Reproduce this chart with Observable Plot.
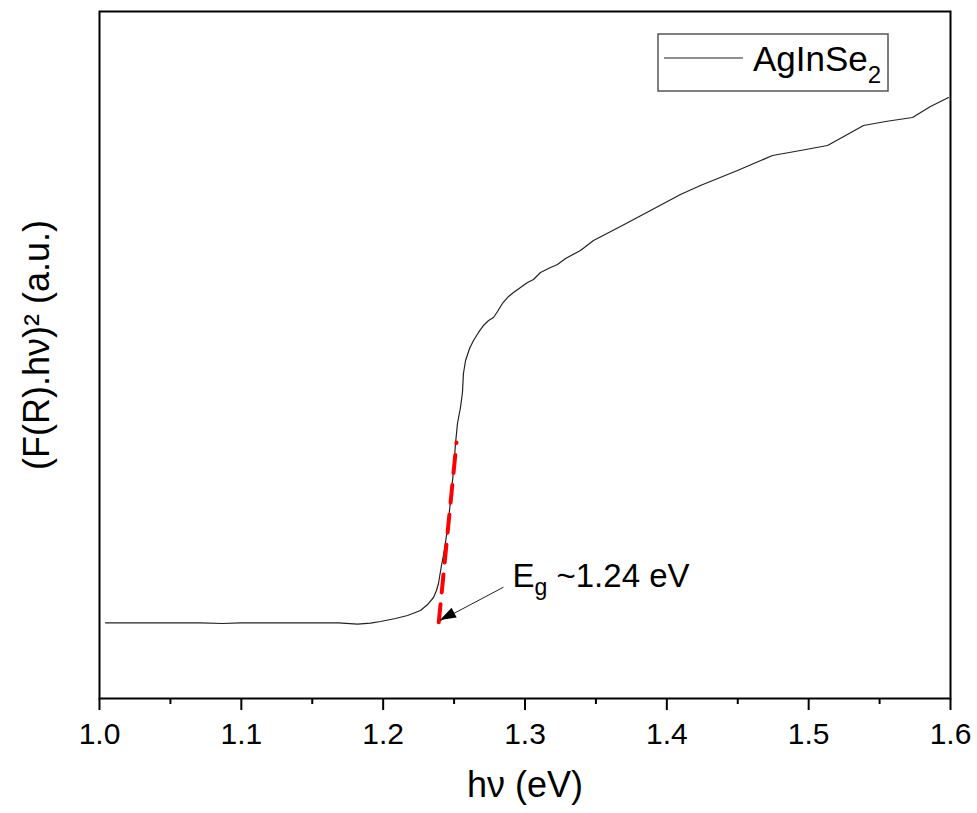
<!DOCTYPE html>
<html>
<head>
<meta charset="utf-8">
<script src="https://cdn.jsdelivr.net/npm/d3@7"></script>
<script src="https://cdn.jsdelivr.net/npm/@observablehq/plot@0.6"></script>
<style>
  body { margin: 0; background: #fff; }
  svg { font-family: "Liberation Sans", Arial, sans-serif; }
</style>
</head>
<body>
<div id="chart"></div>
<script>
// ---- data ----
const energy = [1.0042, 1.0360, 1.0712, 1.0867, 1.0994, 1.1417, 1.1685, 1.1819, 1.1911, 1.1981,
  1.2087, 1.2172, 1.2263, 1.2313, 1.2355, 1.2376, 1.2390, 1.2411, 1.2425, 1.2454,
  1.2475, 1.2496, 1.2510, 1.2524, 1.2545, 1.2559, 1.2566, 1.2581, 1.2609, 1.2637,
  1.2672, 1.2707, 1.2743, 1.2778, 1.2806, 1.2841, 1.2884, 1.2919, 1.2968, 1.3018,
  1.3060, 1.3109, 1.3180, 1.3229, 1.3286, 1.3391, 1.3483, 1.3673, 1.3885, 1.4096,
  1.4237, 1.4498, 1.4745, 1.4942, 1.5133, 1.5260, 1.5387, 1.5542, 1.5732, 1.5859, 1.5986];
const intensity = [11.02, 11.02, 11.02, 10.92, 11.02, 11.02, 11.02, 10.84, 10.96, 11.21,
  11.64, 12.08, 12.81, 13.68, 14.70, 15.72, 16.74, 19.36, 20.82, 24.75,
  28.82, 33.19, 37.12, 40.03, 42.36, 44.54, 47.31, 49.20, 50.95, 52.11,
  53.28, 54.29, 55.02, 55.46, 56.33, 57.50, 58.52, 59.10, 59.83, 60.55,
  60.99, 62.01, 62.74, 63.17, 64.05, 65.21, 66.67, 68.70, 71.03, 73.36,
  74.67, 76.86, 79.04, 79.77, 80.49, 81.95, 83.41, 83.99, 84.57, 86.17, 87.48];
const fitEnergy = [1.2392, 1.2517];
const fitIntensity = [11.1, 37.26];
const xTicks = [1.0, 1.1, 1.2, 1.3, 1.4, 1.5, 1.6];
const xMinorTicks = [1.05, 1.15, 1.25, 1.35, 1.45, 1.55];
const seriesName = "AgInSe2";
const xTitle = "hν (eV)";
const yTitle = "(F(R).hν)² (a.u.)";
const bandGap = [{labelX: 1.2912, labelY: 16.2, tailX: 1.2848, tailY: 16.2, tipX: 1.2404, tipY: 11.35, label: "Eg ~1.24 eV"}];

const curve = energy.map((x, i) => ({x, y: intensity[i]}));
const fit = fitEnergy.map((x, i) => ({x, y: fitIntensity[i]}));

const plot = Plot.plot({
  width: 977,
  height: 813,
  marginLeft: 99,
  marginRight: 27,
  marginTop: 11,
  marginBottom: 115,
  style: {fontFamily: "'Liberation Sans', Arial, sans-serif", color: "black", background: "white", overflow: "visible"},
  x: {domain: [1.0, 1.6]},
  y: {domain: [0, 100], axis: null},
  marks: [
    Plot.axisX({ticks: xMinorTicks, tickSize: 6, text: null, strokeWidth: 2, label: null}),
    Plot.axisX({ticks: xTicks, tickSize: 12, tickPadding: 12, tickFormat: d3.format(".1f"), fontSize: 30, strokeWidth: 2, label: null, fill: "black"}),
    Plot.line(curve, {x: "x", y: "y", stroke: "#222", strokeWidth: 1.2}),
    Plot.line(fit, {x: "x", y: "y", stroke: "#ff0000", strokeWidth: 4, strokeDasharray: "18,12"}),
    Plot.link(bandGap, {x1: "tailX", y1: "tailY", x2: "tipX", y2: "tipY", stroke: "#222", strokeWidth: 1}),
    Plot.text(bandGap, {x: "labelX", y: "labelY", text: "label", textAnchor: "start", lineAnchor: "bottom", fontSize: 33, fill: "black"}),
    Plot.text([xTitle], {text: d => d, frameAnchor: "bottom", dy: 98, lineAnchor: "bottom", textAnchor: "middle", fontSize: 36, fill: "black"}),
    Plot.text([yTitle], {text: d => d, frameAnchor: "left", dx: -62, dy: -10, rotate: -90, textAnchor: "middle", lineAnchor: "middle", fontSize: 36, fill: "black"}),
    Plot.frame({stroke: "black", strokeWidth: 2})
  ]
});

document.getElementById("chart").appendChild(plot);

const svg = d3.select(plot);
const sx = plot.scale("x"), sy = plot.scale("y");

// subscript for Eg label
svg.selectAll("text").filter(function() { return this.textContent === bandGap[0].label; }).each(function() {
  const t = d3.select(this);
  t.text(null);
  t.append("tspan").text("E");
  t.append("tspan").attr("font-size", 23).attr("dy", 8).text("g");
  t.append("tspan").attr("dy", -8).text(" ~1.24 eV");
});

// filled arrow head
{
  const d = bandGap[0];
  const tx = sx.apply(d.tipX), ty = sy.apply(d.tipY);
  const ax = sx.apply(d.tailX), ay = sy.apply(d.tailY);
  const len = Math.hypot(tx - ax, ty - ay);
  const ux = (tx - ax) / len, uy = (ty - ay) / len;
  const L = 16, W = 5.5;
  const bx = tx - ux * L, by = ty - uy * L;
  svg.append("polygon")
    .attr("points", [[tx, ty], [bx - uy * W, by + ux * W], [bx + uy * W, by - ux * W]].map(p => p.join(",")).join(" "))
    .attr("fill", "black");
}

// legend
{
  const g = svg.append("g");
  g.append("rect").attr("x", 658).attr("y", 34).attr("width", 230).attr("height", 57)
    .attr("fill", "white").attr("stroke", "#555").attr("stroke-width", 1.5);
  g.append("line").attr("x1", 664).attr("x2", 743).attr("y1", 58).attr("y2", 58)
    .attr("stroke", "#222").attr("stroke-width", 1.2);
  const t = g.append("text").attr("x", 753).attr("y", 71).attr("font-size", 35)
    .attr("fill", "black").attr("text-anchor", "start");
  t.append("tspan").text(seriesName.slice(0, -1));
  t.append("tspan").attr("font-size", 24).attr("dy", 12).text(seriesName.slice(-1));
}
</script>
</body>
</html>
